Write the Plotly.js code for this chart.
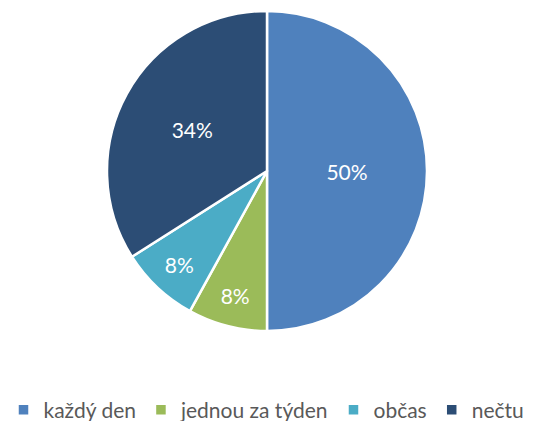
<!DOCTYPE html>
<html>
<head>
<meta charset="utf-8">
<script src="https://cdn.plot.ly/plotly-3.0.1.min.js"></script>
<style>html,body{margin:0;padding:0;background:#fff;}#chart{width:533px;height:421px;}</style>
</head>
<body>
<div id="chart"></div>
<script>
const categories = ["každý den", "jednou za týden", "občas", "nečtu"];
const values = [50, 8, 8, 34];
const colors = ["#4F81BD", "#9BBB59", "#4BACC6", "#2C4D75"];

const W = 533, H = 421;
const cx = 267, cy = 171, r = 160;

const trace = {
  type: "pie",
  labels: categories,
  values: values,
  sort: false,
  direction: "clockwise",
  rotation: 0,
  marker: { colors: colors, line: { color: "#ffffff", width: 2.5 } },
  textinfo: "percent",
  texttemplate: "%{percent:.0%}",
  textposition: "inside",
  insidetextorientation: "horizontal",
  insidetextfont: { color: "#ffffff", size: 21, family: "Lato, 'Open Sans', sans-serif" },
  hoverinfo: "none",
  domain: {
    x: [(cx - r) / W, (cx + r) / W],
    y: [(H - (cy + r)) / H, (H - (cy - r)) / H]
  }
};

const layout = {
  width: W,
  height: H,
  margin: { l: 0, r: 0, t: 0, b: 0, autoexpand: false },
  paper_bgcolor: "#ffffff",
  font: { family: "Lato, 'Open Sans', sans-serif", color: "#595959", size: 21 },
  showlegend: true,
  legend: {
    orientation: "h",
    x: 0.5, xanchor: "center",
    y: -0.023, yanchor: "bottom",
    font: { size: 21, color: "#595959" },
    itemwidth: 30,
    traceorder: "normal"
  }
};

Plotly.newPlot("chart", [trace], layout, { displayModeBar: false, staticPlot: true });
</script>
</body>
</html>
